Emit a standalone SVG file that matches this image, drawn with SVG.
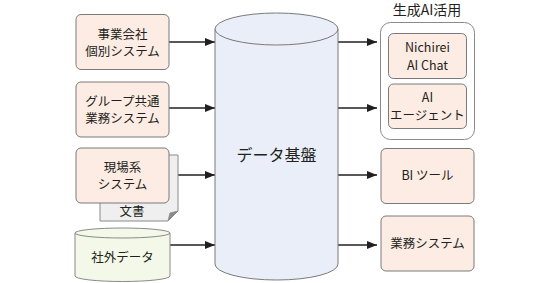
<svg xmlns="http://www.w3.org/2000/svg" width="550" height="283" viewBox="0 0 550 283">
<defs>
<marker id="ah" viewBox="0 0 10 8" refX="10" refY="4" markerWidth="10" markerHeight="8" markerUnits="userSpaceOnUse" orient="auto">
<path d="M0,0 L10,4 L0,8 Z" fill="#231f20"/>
</marker>
</defs>
<style>
text{font-family:"Noto Sans CJK JP","Noto Sans",sans-serif;fill:#231f20;text-anchor:middle}
.lbl{font-size:12.5px}
.box{fill:#fcece4;stroke:#7a7a7a;stroke-width:1}
.conn{stroke:#231f20;stroke-width:1.5;fill:none;marker-end:url(#ah)}
</style>
<g id="connectors">
<line class="conn" x1="169" y1="42" x2="215" y2="42"/>
<line class="conn" x1="169" y1="108" x2="215" y2="108"/>
<line class="conn" x1="169" y1="175" x2="215" y2="175"/>
<line class="conn" x1="170" y1="245" x2="215" y2="245"/>
<line class="conn" x1="338" y1="42" x2="377" y2="42"/>
<line class="conn" x1="338" y1="108" x2="377" y2="108"/>
<line class="conn" x1="338" y1="175" x2="377" y2="175"/>
<line class="conn" x1="338" y1="245" x2="377" y2="245"/>
</g>
<g id="node-jigyo">
<rect class="box" x="76" y="14.5" width="93" height="55" rx="5"/>
<text class="lbl" x="122.5" y="38.5">事業会社</text>
<text class="lbl" x="122.5" y="56">個別システム</text>
</g>
<g id="node-group">
<rect class="box" x="76" y="82" width="93" height="55" rx="5"/>
<text class="lbl" x="122.5" y="105.5">グループ共通</text>
<text class="lbl" x="122.5" y="123">業務システム</text>
</g>
<g id="node-bunsho">
<polygon points="100,155 178,155 178,211 168,221 100,221" fill="#efefef" stroke="#8a8a8a" stroke-width="1"/>
<polygon points="168,221 170,213 178,211" fill="#8a8a8a" stroke="#8a8a8a" stroke-width="0.8"/>
<text class="lbl" x="132" y="216">文書</text>
</g>
<g id="node-genba">
<rect class="box" x="76" y="148" width="93" height="55" rx="5"/>
<text class="lbl" x="122.5" y="171.5">現場系</text>
<text class="lbl" x="122.5" y="189">システム</text>
</g>
<g id="node-shagai">
<path d="M75,233 L75,276 A47.5,5.5 0 0 0 170,276 L170,233" fill="#f3f8e8" stroke="#8a8a8a" stroke-width="1"/>
<ellipse cx="122.5" cy="233" rx="47.5" ry="5" fill="#f3f8e8" stroke="#8a8a8a" stroke-width="1"/>
<text class="lbl" x="122.5" y="262">社外データ</text>
</g>
<g id="node-kiban">
<path d="M215,29 L215,264 A61.5,16 0 0 0 338,264 L338,29" fill="#e9eef8" stroke="#7a7a7a" stroke-width="1"/>
<ellipse cx="276.5" cy="29" rx="61.5" ry="16" fill="#e9eef8" stroke="#7a7a7a" stroke-width="1"/>
<text x="276.5" y="161" font-size="16">データ基盤</text>
</g>
<g id="group-ai">
<text x="427" y="15" font-size="14">生成AI活用</text>
<rect x="380.5" y="22.5" width="94" height="117" rx="10" fill="#ffffff" stroke="#8a8a8a" stroke-width="1"/>
</g>
<g id="node-chat">
<rect class="box" x="388.5" y="33.5" width="78" height="45" rx="5"/>
<text class="lbl" x="427.5" y="52">Nichirei</text>
<text class="lbl" x="427.5" y="69.5">AI Chat</text>
</g>
<g id="node-agent">
<rect class="box" x="388.5" y="84" width="78" height="44.5" rx="5"/>
<text class="lbl" x="427.5" y="102">AI</text>
<text class="lbl" x="427.5" y="119.5">エージェント</text>
</g>
<g id="node-bi">
<rect class="box" x="381" y="148.5" width="93" height="55" rx="5"/>
<text class="lbl" x="427.5" y="180">BI ツール</text>
</g>
<g id="node-gyomu">
<rect class="box" x="381" y="216" width="93" height="55" rx="5"/>
<text class="lbl" x="427.5" y="248">業務システム</text>
</g>
</svg>
